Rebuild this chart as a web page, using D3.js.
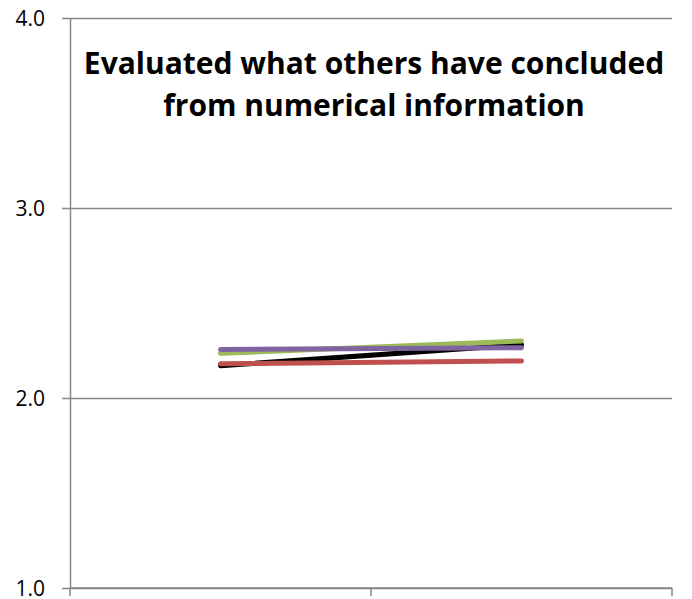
<!DOCTYPE html>
<html lang="en">
<head>
<meta charset="utf-8">
<title>Evaluated what others have concluded</title>
<script src="https://d3js.org/d3.v7.min.js"></script>
<style>
  body { margin: 0; background: #fff; }
  svg text { font-family: "Open Sans", "Liberation Sans", sans-serif; fill: #000; }
</style>
</head>
<body>
<svg width="692" height="599"></svg>
<script>
// categories along x (unlabelled in the original)
const categories = ["Time 1", "Time 2"];
const yTicks = [1, 2, 3, 4];
const titleLines = ["Evaluated what others have concluded", "from numerical information"];

// series values
const blackVals = [2.17, 2.28];
const redVals = [2.18, 2.195];
const greenVals = [2.235, 2.30];
const purpleVals = [2.255, 2.265];

const series = [
  { name: "black", values: blackVals, color: "#000000" },
  { name: "red", values: redVals, color: "#c0504d" },
  { name: "green", values: greenVals, color: "#9bbb59" },
  { name: "purple", values: purpleVals, color: "#8064a2" }
];

const svg = d3.select("svg");
const plotLeft = 70, plotRight = 672, plotTop = 18, plotBottom = 588;

const x = d3.scaleBand().domain(categories).range([plotLeft, plotRight]);
const y = d3.scaleLinear().domain([1, 4]).range([plotBottom, plotTop]);

//Gridlines + y axis
const yAxis = d3.axisLeft(y)
  .tickValues(yTicks)
  .tickFormat(d3.format(".1f"))
  .tickSize(-(plotRight - plotLeft))
  .tickSizeOuter(0);

svg.append("g")
  .attr("transform", `translate(${plotLeft},0)`)
  .call(yAxis)
  .call(g => g.select(".domain").attr("stroke", "#868686").attr("stroke-width", 1.5))
  .call(g => g.selectAll(".tick line")
    .attr("x1", -8)
    .attr("stroke", "#868686").attr("stroke-width", 1.5))
  .call(g => g.selectAll(".tick text")
    .attr("x", -25)
    .attr("dy", "0.35em")
    .style("font-size", "21px"));

//x axis with ticks at category boundaries
const xEdges = categories.map(c => x(c)).concat([x(categories[categories.length - 1]) + x.bandwidth()]);
const xAxisG = svg.append("g");
xAxisG.append("line")
  .attr("x1", plotLeft).attr("x2", plotRight)
  .attr("y1", plotBottom).attr("y2", plotBottom)
  .attr("stroke", "#868686").attr("stroke-width", 1.5);
xAxisG.selectAll(".xt")
  .data(xEdges)
  .enter().append("line")
  .attr("x1", d => d).attr("x2", d => d)
  .attr("y1", plotBottom).attr("y2", plotBottom + 8)
  .attr("stroke", "#868686").attr("stroke-width", 1.5);

//Lines
const line = d3.line()
  .x((d, i) => x(categories[i]) + x.bandwidth() / 2)
  .y(d => y(d));

svg.selectAll(".series")
  .data(series)
  .enter().append("path")
  .attr("d", d => line(d.values))
  .attr("fill", "none")
  .attr("stroke", d => d.color)
  .attr("stroke-width", 5)
  .attr("stroke-linecap", "round");

//Title
svg.append("text")
  .attr("x", (plotLeft + plotRight) / 2 + 3)
  .attr("y", 74)
  .attr("text-anchor", "middle")
  .style("font-size", "30px")
  .style("font-weight", "bold")
  .selectAll("tspan")
  .data(titleLines)
  .enter().append("tspan")
  .attr("x", (plotLeft + plotRight) / 2 + 3)
  .attr("dy", (d, i) => i === 0 ? 0 : 42)
  .text(d => d);
</script>
</body>
</html>
